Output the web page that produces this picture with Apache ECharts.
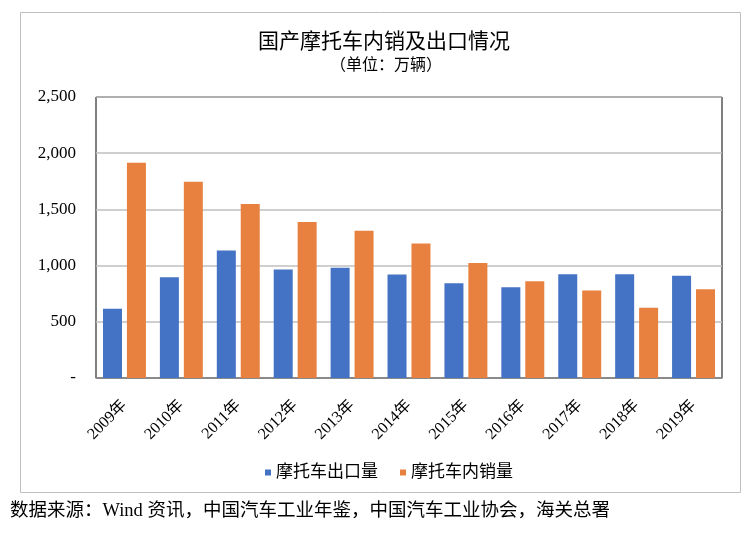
<!DOCTYPE html>
<html>
<head>
<meta charset="utf-8">
<script src="https://cdn.jsdelivr.net/npm/echarts@6/dist/echarts.min.js"></script>
<style>html,body{margin:0;padding:0;background:#fff;}#c{width:756px;height:540px;}</style>
</head>
<body>
<div id="c"></div>
<script>
var categories = ['2009年','2010年','2011年','2012年','2013年','2014年','2015年','2016年','2017年','2018年','2019年'];
var exportVals = [615, 897, 1134, 965, 980, 921, 844, 808, 924, 924, 909];
var domesticVals = [1916, 1747, 1548, 1388, 1311, 1196, 1024, 861, 779, 624, 790];
var seriesNames = ['摩托车出口量', '摩托车内销量'];
var yTicks = { min: 0, max: 2500, interval: 500 };

var FONT = '"Liberation Serif", "Noto Sans CJK SC", serif';
var chart = echarts.init(document.getElementById('c'));
chart.setOption({
  backgroundColor: '#fff',
  animation: false,
  graphic: [
    { type: 'rect', shape: { x: 20.5, y: 12.5, width: 720, height: 480 }, style: { fill: 'none', stroke: '#BFBFBF', lineWidth: 1 }, z: -1 },
    { type: 'text', x: 384, y: 42, style: { text: '国产摩托车内销及出口情况', font: '21px ' + FONT, fill: '#000', align: 'center', verticalAlign: 'middle' } },
    { type: 'text', x: 386, y: 66, style: { text: '（单位：万辆）', font: '16px ' + FONT, fill: '#000', align: 'center', verticalAlign: 'middle' } },
    { type: 'text', left: 10, top: 502, style: { text: '数据来源：Wind 资讯，中国汽车工业年鉴，中国汽车工业协会，海关总署', font: '18.5px ' + FONT, fill: '#000' } }
  ],
  legend: {
    data: seriesNames,
    left: 260,
    top: 459,
    itemWidth: 6,
    itemHeight: 6,
    itemGap: 22,
    icon: 'rect',
    textStyle: { fontFamily: FONT, fontSize: 17, color: '#000' }
  },
  grid: { left: 96, right: 34, top: 97, bottom: 162, show: true, borderColor: '#000', borderWidth: 1 },
  xAxis: {
    type: 'category',
    data: categories,
    axisLine: { lineStyle: { color: '#7F7F7F', width: 1.5 } },
    axisTick: { show: false },
    axisLabel: { rotate: 45, fontFamily: FONT, fontSize: 16, color: '#000', margin: 25 }
  },
  yAxis: {
    type: 'value',
    min: yTicks.min, max: yTicks.max, interval: yTicks.interval,
    axisLine: { show: false },
    axisTick: { show: false },
    splitLine: { lineStyle: { color: '#BFBFBF', width: 1.5 } },
    axisLabel: {
      fontFamily: FONT, fontSize: 17, color: '#000', margin: 20,
      formatter: function (v) { return v === 0 ? '-' : v.toLocaleString('en-US'); }
    }
  },
  series: [
    { name: seriesNames[0], type: 'bar', data: exportVals, barWidth: 19, barGap: '26%', itemStyle: { color: '#4472C4' } },
    { name: seriesNames[1], type: 'bar', data: domesticVals, barWidth: 19, itemStyle: { color: '#E8803F' } }
  ]
});
</script>
</body>
</html>
